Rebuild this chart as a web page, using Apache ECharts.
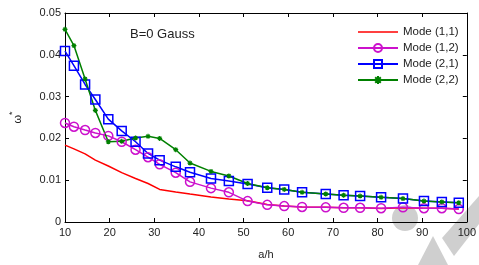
<!DOCTYPE html>
<html>
<head>
<meta charset="utf-8">
<script src="https://cdn.jsdelivr.net/npm/echarts@6/dist/echarts.min.js"></script>
<style>
  html, body { margin: 0; padding: 0; background: #fff; }
  #main { width: 479px; height: 265px; }
</style>
</head>
<body>
<div id="main"></div>
<script>
// a/h values (shared by all modes)
var ah = [10, 12, 14.5, 16.8, 19.7, 22.7, 25.8, 28.6, 31.2, 34.8, 38, 42.7, 46.7, 50.9,
          55.3, 59.1, 63.1, 68.4, 72.4, 76.1, 80.8, 85.7, 90.4, 94.4, 98.2];

var mode11 = [0.0184, 0.0175, 0.0163, 0.0148, 0.0134, 0.0118, 0.0104, 0.0092, 0.0078, 0.0072,
              0.0067, 0.0060, 0.0055, 0.0051, 0.0042, 0.0038, 0.0036, 0.0035, 0.0034, 0.0034,
              0.0032, 0.0034, 0.0033, 0.0033, 0.0031];
var mode12 = [0.0237, 0.0228, 0.0220, 0.0213, 0.0206, 0.0192, 0.0173, 0.0155, 0.0138, 0.0118,
              0.0096, 0.0081, 0.0071, 0.0050, 0.0041, 0.0038, 0.0036, 0.0035, 0.0034, 0.0034,
              0.0033, 0.0035, 0.0033, 0.0033, 0.0031];
var mode21 = [0.0409, 0.0374, 0.0329, 0.0293, 0.0246, 0.0218, 0.0192, 0.0164, 0.0148, 0.0132,
              0.0119, 0.0104, 0.0098, 0.0091, 0.0082, 0.0078, 0.0071, 0.0067, 0.0064, 0.0062,
              0.0059, 0.0056, 0.0050, 0.0048, 0.0046];
var mode22 = [0.0461, 0.0422, 0.0342, 0.0267, 0.0192, 0.0193, 0.0201, 0.0205, 0.0200, 0.0173,
              0.0141, 0.0121, 0.0110, 0.0092, 0.0082, 0.0078, 0.0071, 0.0067, 0.0064, 0.0062,
              0.0059, 0.0056, 0.0050, 0.0048, 0.0046];

var xTicks = [10, 20, 30, 40, 50, 60, 70, 80, 90, 100];
var yTicks = [0, 0.01, 0.02, 0.03, 0.04, 0.05];

function pairs(ys) {
  return ah.map(function (x, i) { return [x, ys[i]]; });
}

var font = 'Liberation Sans, Arial, sans-serif';
var starPath = 'path://M5,0 L5,10 M0,5 L10,5 M1.5,1.5 L8.5,8.5 M8.5,1.5 L1.5,8.5';
// plain line icon for the marker-less series (degenerate moves keep the 40x10 box)
var lineIcon = 'path://M0,0 L0,0 M0,4.3 L40,4.3 L40,5.7 L0,5.7 Z M40,10 L40,10';

var myChart = echarts.init(document.getElementById('main'));

function axisBase(pos, show) {
  return {
    position: pos,
    axisLine: { show: true, onZero: false, lineStyle: { color: '#000', width: 1 } },
    axisTick: { show: true, inside: true, length: 4, lineStyle: { color: '#000' } },
    splitLine: { show: false },
    axisLabel: { show: show, color: '#222', fontSize: 11, fontFamily: font }
  };
}

var xa = axisBase('bottom', true);
xa.type = 'value'; xa.min = 10; xa.max = 100; xa.interval = 10;
xa.axisLabel.margin = 5;
xa.name = 'a/h'; xa.nameLocation = 'middle'; xa.nameGap = 27;
xa.nameTextStyle = { color: '#222', fontSize: 11, fontFamily: font };
var xTop = axisBase('top', false);
xTop.type = 'value'; xTop.min = 10; xTop.max = 100; xTop.interval = 10;

var ya = axisBase('left', true);
ya.type = 'value'; ya.min = 0; ya.max = 0.05; ya.interval = 0.01;
ya.axisLabel.margin = 4;
ya.axisLabel.formatter = function (v) { return v === 0 ? '0' : v.toFixed(2); };
ya.name = '{w|ω}{s|*}'; ya.nameLocation = 'middle'; ya.nameGap = 38; ya.nameRotate = 90;
ya.nameTextStyle = {
  rich: {
    w: { fontSize: 11, fontFamily: font, color: '#222' },
    s: { fontSize: 9, fontFamily: font, color: '#222', padding: [0, 0, 10, 0] }
  }
};
var yRight = axisBase('right', false);
yRight.type = 'value'; yRight.min = 0; yRight.max = 0.05; yRight.interval = 0.01;

var option = {
  animation: false,
  backgroundColor: '#fff',
  title: {
    text: 'B=0 Gauss',
    left: 130, top: 28, padding: 0,
    textStyle: { fontSize: 13, fontWeight: 'normal', color: '#222', fontFamily: font }
  },
  legend: {
    orient: 'vertical',
    left: 352, top: 21,
    itemWidth: 40, itemHeight: 10, itemGap: 4,
    textStyle: { fontSize: 11.5, color: '#222', fontFamily: font },
    data: [
      { name: 'Mode (1,1)', icon: lineIcon },
      'Mode (1,2)', 'Mode (2,1)', 'Mode (2,2)'
    ]
  },
  grid: { left: 59, right: 9, top: 13, bottom: 35 },
  xAxis: [xa, xTop],
  yAxis: [ya, yRight],
  graphic: [
    { type: 'circle', shape: { cx: 405, cy: 218, r: 13 }, style: { fill: '#cfcfcf' }, z: -1 },
    { type: 'polygon', shape: { points: [[418, 265], [433, 236], [448, 265]] }, style: { fill: '#cfcfcf' }, z: -1 },
    { type: 'polygon', shape: { points: [[442, 238], [479, 196], [479, 224], [454, 256]] }, style: { fill: '#cfcfcf' }, z: -1 }
  ],
  series: [
    {
      name: 'Mode (1,1)', type: 'line', symbol: 'none',
      lineStyle: { color: '#ff0000', width: 1.5 }, itemStyle: { color: '#ff0000' },
      data: pairs(mode11)
    },
    {
      name: 'Mode (1,2)', type: 'line', symbol: 'circle', symbolSize: 9,
      lineStyle: { color: '#cc11cc', width: 1.5 },
      itemStyle: { color: 'rgba(255,255,255,0)', borderColor: '#cc11cc', borderWidth: 1.5 },
      data: pairs(mode12)
    },
    {
      name: 'Mode (2,1)', type: 'line', symbol: 'rect', symbolSize: 9,
      lineStyle: { color: '#0000ff', width: 1.5 },
      itemStyle: { color: 'rgba(255,255,255,0)', borderColor: '#0000ff', borderWidth: 1.5 },
      data: pairs(mode21)
    },
    {
      name: 'Mode (2,2)', type: 'line', symbol: starPath, symbolSize: 5,
      lineStyle: { color: '#008000', width: 1.5 },
      itemStyle: { color: 'rgba(255,255,255,0)', borderColor: '#008000', borderWidth: 1.2 },
      data: pairs(mode22)
    }
  ]
};

myChart.setOption(option);
</script>
</body>
</html>
